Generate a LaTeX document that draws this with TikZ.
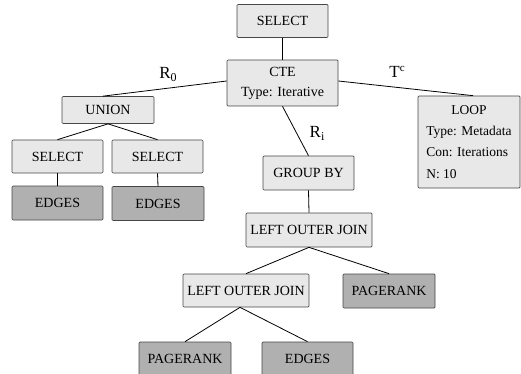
\documentclass[tikz,border=0pt]{standalone}
\usepackage{fontspec}
\setmainfont{Liberation Serif}
\usepackage{tikz}
\usetikzlibrary{positioning}
\definecolor{boxlight}{RGB}{232,232,232}
\definecolor{boxdark}{RGB}{176,176,176}
\definecolor{boxline}{RGB}{70,70,70}

\begin{document}
\begin{tikzpicture}[
        x=1pt, y=-1pt,
        op/.style={rectangle, rounded corners=1pt, draw=boxline, line width=0.7pt, fill=boxlight,
          inner sep=0pt, font=\fontsize{14}{16}\selectfont},
        tbl/.style={op, fill=boxdark},
        edge/.style={line width=0.8pt, black},
        lbl/.style={font=\fontsize{17}{19}\selectfont}
      ]
        \useasboundingbox (0,0) rectangle (521,374);
        % top of the plan
        \node[op, minimum width=91pt, minimum height=33pt] (sel0) at (282.5,21) {SELECT};
        \node[op, minimum width=111pt, minimum height=46pt, align=center] (cte) at (282.5,83) {CTE\\[4pt]Type: Iterative};
        % R0 branch
        \node[op, minimum width=92pt, minimum height=27pt] (union) at (108,110) {UNION};
        \node[op, minimum width=91pt, minimum height=33pt] (selA) at (57.5,156.5) {SELECT};
        \node[op, minimum width=91pt, minimum height=33pt] (selB) at (157.5,156.5) {SELECT};
        \node[tbl, minimum width=91pt, minimum height=34pt] (edgA) at (57.5,203) {EDGES};
        \node[tbl, minimum width=92pt, minimum height=34pt] (edgB) at (158,203.5) {EDGES};
        % Ri branch
        \node[op, minimum width=91pt, minimum height=34pt] (grp) at (308.5,173) {GROUP BY};
        \node[op, minimum width=126pt, minimum height=34pt] (loj1) at (309,230) {LEFT OUTER JOIN};
        \node[op, minimum width=126pt, minimum height=33pt] (loj2) at (246,290.5) {LEFT OUTER JOIN};
        \node[tbl, minimum width=92pt, minimum height=34pt] (prA) at (389,291) {PAGERANK};
        \node[tbl, minimum width=92pt, minimum height=33pt] (prB) at (185,358.5) {PAGERANK};
        \node[tbl, minimum width=91pt, minimum height=33pt] (edgC) at (307.5,358.5) {EDGES};
        % Tc branch
        \node[op, minimum width=102pt, minimum height=92pt, font=\fontsize{13.5}{15}\selectfont] (loop) at (469,142)
          {\renewcommand{\arraystretch}{1.42}\begin{tabular}{@{}l@{}}\multicolumn{1}{@{}c@{}}{LOOP}\\Type: Metadata\\Con: Iterations\\N: 10\end{tabular}};

        \node[lbl] (r0) at (168,74) {R\raisebox{-3pt}{\fontsize{12}{12}\selectfont 0}};
        \node[lbl] (tc) at (397,72) {T\raisebox{6pt}{\fontsize{11}{11}\selectfont c}};
        \node[lbl] (ri) at (317,133) {R\raisebox{-3pt}{\fontsize{12}{12}\selectfont i}};

        \draw[edge] (sel0.south) -- (cte.north);
        \draw[edge] ([yshift=2pt]cte.west) -- ([xshift=-5pt]union.north);
        \draw[edge] ([yshift=2pt]cte.east) -- ([xshift=4pt]loop.north);
        \draw[edge] (cte.south) -- (grp.north);
        \draw[edge] (union.south) -- (selA.north);
        \draw[edge] (union.south) -- (selB.north);
        \draw[edge] (selA.south) -- (edgA.north);
        \draw[edge] (selB.south) -- (edgB.north);
        \draw[edge] (grp.south) -- (loj1.north);
        \draw[edge] (loj1.south) -- (loj2.north);
        \draw[edge] (loj1.south) -- (prA.north);
        \draw[edge] ([xshift=-6pt]loj2.south) -- (prB.north);
        \draw[edge] ([xshift=-6pt]loj2.south) -- (edgC.north);
      \end{tikzpicture}
\end{document}
